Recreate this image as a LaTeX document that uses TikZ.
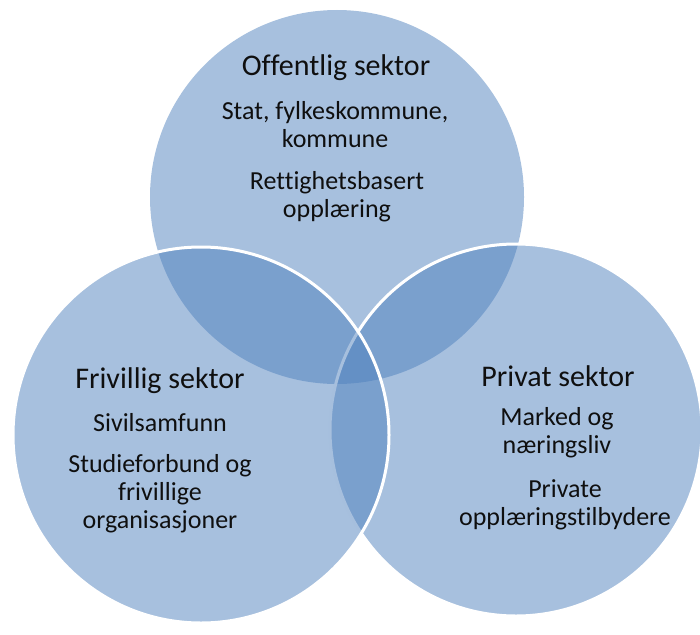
\documentclass[tikz,border=0pt]{standalone}
\usepackage{fontspec}
\setmainfont{Carlito}[Ligatures=NoCommon]
\definecolor{vennblue}{RGB}{79,129,189}
\definecolor{txt}{RGB}{15,15,15}
\tikzset{
  venn/.style={fill=vennblue, fill opacity=0.5},
  vennline/.style={draw=white, line width=3pt},
  ttl/.style={text=txt, font=\fontsize{30}{34}\selectfont, inner sep=0pt, align=center},
  bdy/.style={text=txt, font=\fontsize{26}{28}\selectfont, inner sep=0pt, align=center}
}
\begin{document}
\begin{tikzpicture}[x=1pt,y=-1pt]
\useasboundingbox (0,0) rectangle (700,634);
% circles
\fill[venn] (337,197) circle (187);
\fill[venn] (516,430) circle (186);
\draw[vennline] (516,430) circle (186);
\fill[venn] (201,435) circle (188);
\draw[vennline] (201,435) circle (188);
% top circle texts
\node[ttl] (offt) at (336,68) {Offentlig sektor};
\node[bdy] (off1) at (335,125) {Stat, fylkeskommune,\\kommune};
\node[bdy] (off2) at (337,197) {Rettighetsbasert\\opplæring};
% left circle texts
\node[ttl] (frit) at (160,381) {Frivillig sektor};
\node[bdy] (fri1) at (160,423) {Sivilsamfunn};
\node[bdy] (fri2) at (160,494) {Studieforbund og\\frivillige\\organisasjoner};
% right circle texts
\node[ttl] (prit) at (558,376) {Privat sektor};
\node[bdy] (pri1) at (557,433) {Marked og\\næringsliv};
\node[bdy] (pri2) at (565,505) {Private\\opplæringstilbydere};
\end{tikzpicture}
\end{document}
